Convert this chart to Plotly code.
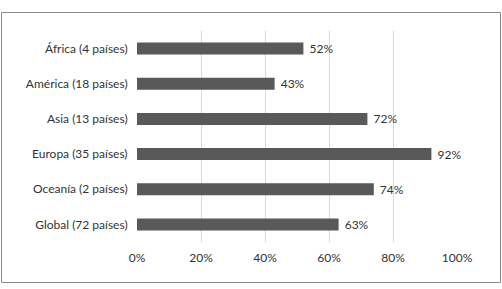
import plotly.graph_objects as go

categories = ["África (4 países)", "América (18 países)", "Asia (13 países)",
              "Europa (35 países)", "Oceanía (2 países)", "Global (72 países)"]
values = [0.52, 0.43, 0.72, 0.92, 0.74, 0.63]
tick_vals = [0, 0.2, 0.4, 0.6, 0.8, 1.0]
tick_text = ["0%", "20%", "40%", "60%", "80%", "100%"]

FONT = "Lato"
W, H = 502, 289
L, R, T, B = 137, 45, 31, 47
pw, ph = W - L - R, H - T - B

fig = go.Figure(go.Bar(
    y=categories, x=values, orientation="h",
    marker=dict(color="#595959", line=dict(width=0)),
    text=[f"\u00a0{round(v*100)}%" for v in values],
    textposition="outside", cliponaxis=False, constraintext="none",
    textfont=dict(family=FONT, size=12, color="#333333"),
    width=0.34, hoverinfo="skip",
))

# outer border in paper coords
bx0, bx1, by0, by1 = 1.5, 500.5, 12.5, 282.5
fig.add_shape(type="rect", xref="paper", yref="paper",
              x0=(bx0 - L) / pw, x1=(bx1 - L) / pw,
              y0=(H - B - by1) / ph, y1=(H - B - by0) / ph,
              line=dict(color="#8a8a8a", width=1), fillcolor="rgba(0,0,0,0)", layer="above")

fig.update_layout(
    width=W, height=H,
    margin=dict(l=L, r=R, t=T, b=B, pad=0, autoexpand=False),
    paper_bgcolor="white", plot_bgcolor="white",
    showlegend=False,
    font=dict(family=FONT, size=12, color="#333333"),
    xaxis=dict(range=[0, 1], tickvals=tick_vals, ticktext=tick_text,
               showgrid=True, gridcolor="#d9d9d9", gridwidth=1,
               zeroline=False, showline=False, ticks="outside", ticklen=5,
               tickcolor="rgba(0,0,0,0)",
               tickfont=dict(family=FONT, size=12, color="#333333")),
    yaxis=dict(autorange="reversed", showgrid=False, zeroline=False,
               showline=False, ticks="outside", ticklen=6, tickcolor="rgba(0,0,0,0)",
               tickfont=dict(family=FONT, size=12, color="#333333")),
)

fig.write_html("out.html", config={"displayModeBar": False, "staticPlot": True},
               post_script="document.body.style.margin='0';")
